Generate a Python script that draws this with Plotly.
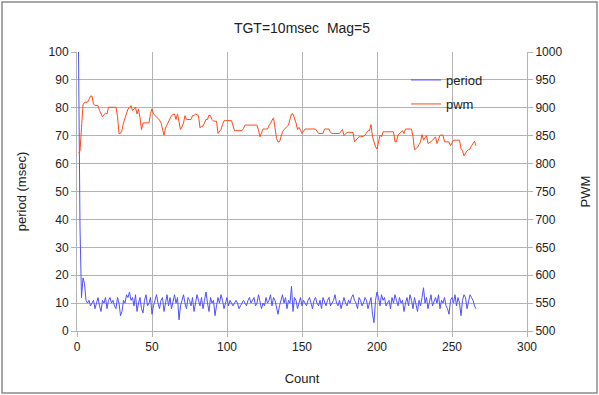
import plotly.graph_objects as go

period = [100, 37, 12, 19, 17, 11, 10, 11, 9, 10, 11, 8, 10, 12, 9, 7, 11, 10, 12, 8,
          11, 12, 10, 11, 9, 8, 12, 10, 5.5, 7, 11, 10, 13, 12, 14, 11, 12, 9, 13, 7,
          10, 12, 8, 6.5, 11, 13, 9, 10, 12, 6, 9, 11, 13, 10, 8, 11, 12, 7, 10, 13,
          9, 12, 8, 11, 13, 10, 12, 4, 9, 11, 13, 10, 8, 12, 11, 9, 12, 7, 10, 13,
          11, 9, 12, 8, 11, 14, 10, 7, 12, 10, 11, 5.5, 9, 12, 10, 13, 11, 8, 10, 12,
          9, 11, 10, 9, 10, 11, 10, 8, 9, 10, 11, 10, 9, 11, 12, 10, 11, 12, 9, 10,
          13, 11, 8, 10, 9, 12, 10, 11, 13, 9, 12, 11, 8, 6, 9, 11, 13, 10, 12, 8,
          11, 10, 16, 7, 12, 11, 8, 10, 12, 9, 11, 10, 9, 11, 12, 10, 8, 11, 12, 10,
          9, 11, 8, 12, 10, 9, 11, 12, 9, 10, 11, 13, 10, 9, 11, 8, 10, 12, 10, 9,
          11, 10, 12, 13, 11, 10, 8, 12, 11, 9, 10, 12, 11, 8, 10, 12, 6, 3, 11, 14,
          12, 9, 13, 11, 12, 9, 10, 11, 8, 12, 10, 13, 11, 9, 12, 10, 11, 7, 10, 12,
          9, 13, 11, 8, 12, 10, 7, 11, 9, 12, 15.5, 10, 12, 8, 11, 13, 9, 11, 12, 10,
          13, 8, 11, 10, 12, 9, 8, 6, 11, 12, 10, 13, 9, 12, 10, 5.5, 11, 13, 12, 8,
          11, 13, 12, 11, 9, 8]

pwm = [820, 822, 865, 905, 910, 910, 910, 915, 921, 921, 907, 904, 904, 904, 895, 890, 884, 888, 890, 889,
       901, 901, 901, 901, 901, 901, 885, 854, 854, 860, 873, 882, 892, 898, 900, 904, 895, 898, 901, 889,
       898, 882, 861, 873, 873, 873, 873, 873, 890, 898, 889, 886, 884, 882, 878, 873, 860, 851, 864, 870,
       876, 882, 886, 888, 889, 879, 889, 875, 861, 866, 873, 886, 879, 879, 879, 879, 886, 886, 889, 888,
       886, 864, 867, 867, 872, 879, 879, 887, 886, 879, 876, 876, 876, 854, 858, 861, 870, 877, 877, 877,
       877, 877, 877, 868, 859, 859, 859, 859, 859, 859, 863, 869, 869, 869, 869, 869, 869, 869, 869, 869,
       860, 848, 855, 862, 862, 862, 862, 868, 873, 878, 882, 865, 845, 839, 839, 848, 857, 861, 864, 866,
       869, 880, 889, 889, 882, 873, 861, 865, 860, 854, 858, 862, 862, 862, 862, 862, 862, 862, 862, 858,
       854, 854, 854, 854, 862, 862, 862, 862, 856, 854, 854, 854, 854, 854, 854, 858, 861, 850, 854, 856,
       856, 856, 856, 856, 839, 842, 845, 848, 848, 848, 849, 851, 855, 859, 859, 870, 848, 838, 830, 826,
       840, 851, 848, 857, 857, 857, 857, 857, 857, 857, 857, 839, 839, 851, 854, 856, 859, 854, 862, 862,
       862, 862, 862, 848, 825, 827, 829, 834, 839, 852, 842, 846, 850, 836, 837, 839, 842, 845, 848, 836,
       845, 851, 851, 851, 839, 839, 839, 839, 832, 837, 842, 842, 842, 842, 842, 827, 823, 814, 820, 823,
       825, 826, 832, 836, 840, 832]

count = list(range(1, len(period) + 1))
count_pwm = list(range(1, len(pwm) + 1))

FONT = "Liberation Sans, Arial, sans-serif"
GRID = "#b3b3b3"
TXT = "#222"

fig = go.Figure()
fig.add_trace(go.Scatter(x=count, y=period, name="period", mode="lines",
                         line=dict(color="#5050ff", width=1), legend="legend"))
fig.add_trace(go.Scatter(x=count_pwm, y=pwm, name="pwm", mode="lines", yaxis="y2",
                         line=dict(color="#ff4a1a", width=1), legend="legend2"))

leg_common = dict(xanchor="left", yanchor="middle", bgcolor="rgba(0,0,0,0)",
                  font=dict(family=FONT, size=13, color=TXT), itemwidth=30)

fig.update_layout(
    width=599, height=395,
    margin=dict(l=77, r=72, t=52, b=64, autoexpand=False),
    paper_bgcolor="white", plot_bgcolor="white",
    font=dict(family=FONT, size=12, color=TXT),
    title=dict(text="TGT=10msec  Mag=5", x=302/599, xanchor="center",
               y=1 - 23/395, yanchor="top", yref="container",
               font=dict(family=FONT, size=14, color=TXT)),
    showlegend=True,
    legend=dict(x=(406-77)/450, y=(331-80)/279, **leg_common),
    legend2=dict(x=(406-77)/450, y=(331-104)/279, **leg_common),
    xaxis=dict(range=[0, 300], dtick=50, tick0=0, showgrid=True, gridcolor=GRID,
               gridwidth=1, zeroline=False, showline=True, linecolor=GRID, linewidth=1,
               ticks="outside", ticklen=5, tickcolor=GRID, automargin=False,
               title=dict(text="Count", standoff=20, font=dict(size=13)),
               tickfont=dict(size=12)),
    yaxis=dict(range=[0, 100], dtick=10, tick0=0, showgrid=True, gridcolor=GRID,
               zeroline=False, showline=True, linecolor=GRID, linewidth=1,
               ticks="outside", ticklen=5, tickcolor=GRID, automargin=False,
               title=dict(text="period (msec)", standoff=19, font=dict(size=13)),
               tickfont=dict(size=12)),
    yaxis2=dict(range=[500, 1000], dtick=50, tick0=500, overlaying="y", side="right",
                showgrid=False, zeroline=False, showline=True, linecolor=GRID,
                ticks="outside", ticklen=5, tickcolor=GRID, automargin=False,
                title=dict(text="PWM", standoff=19, font=dict(size=13)),
                tickfont=dict(size=12)),
    shapes=[dict(type="rect", xref="paper", yref="paper",
                 x0=(2-77)/450, x1=(597-77)/450, y0=(331-393)/279, y1=(331-2)/279,
                 line=dict(color="#8a8a8a", width=1.5), fillcolor="rgba(0,0,0,0)",
                 layer="below")],
)

fig.write_html("out.html", config={"displayModeBar": False},
               post_script="document.body.style.margin='0';document.body.style.overflow='hidden';")
